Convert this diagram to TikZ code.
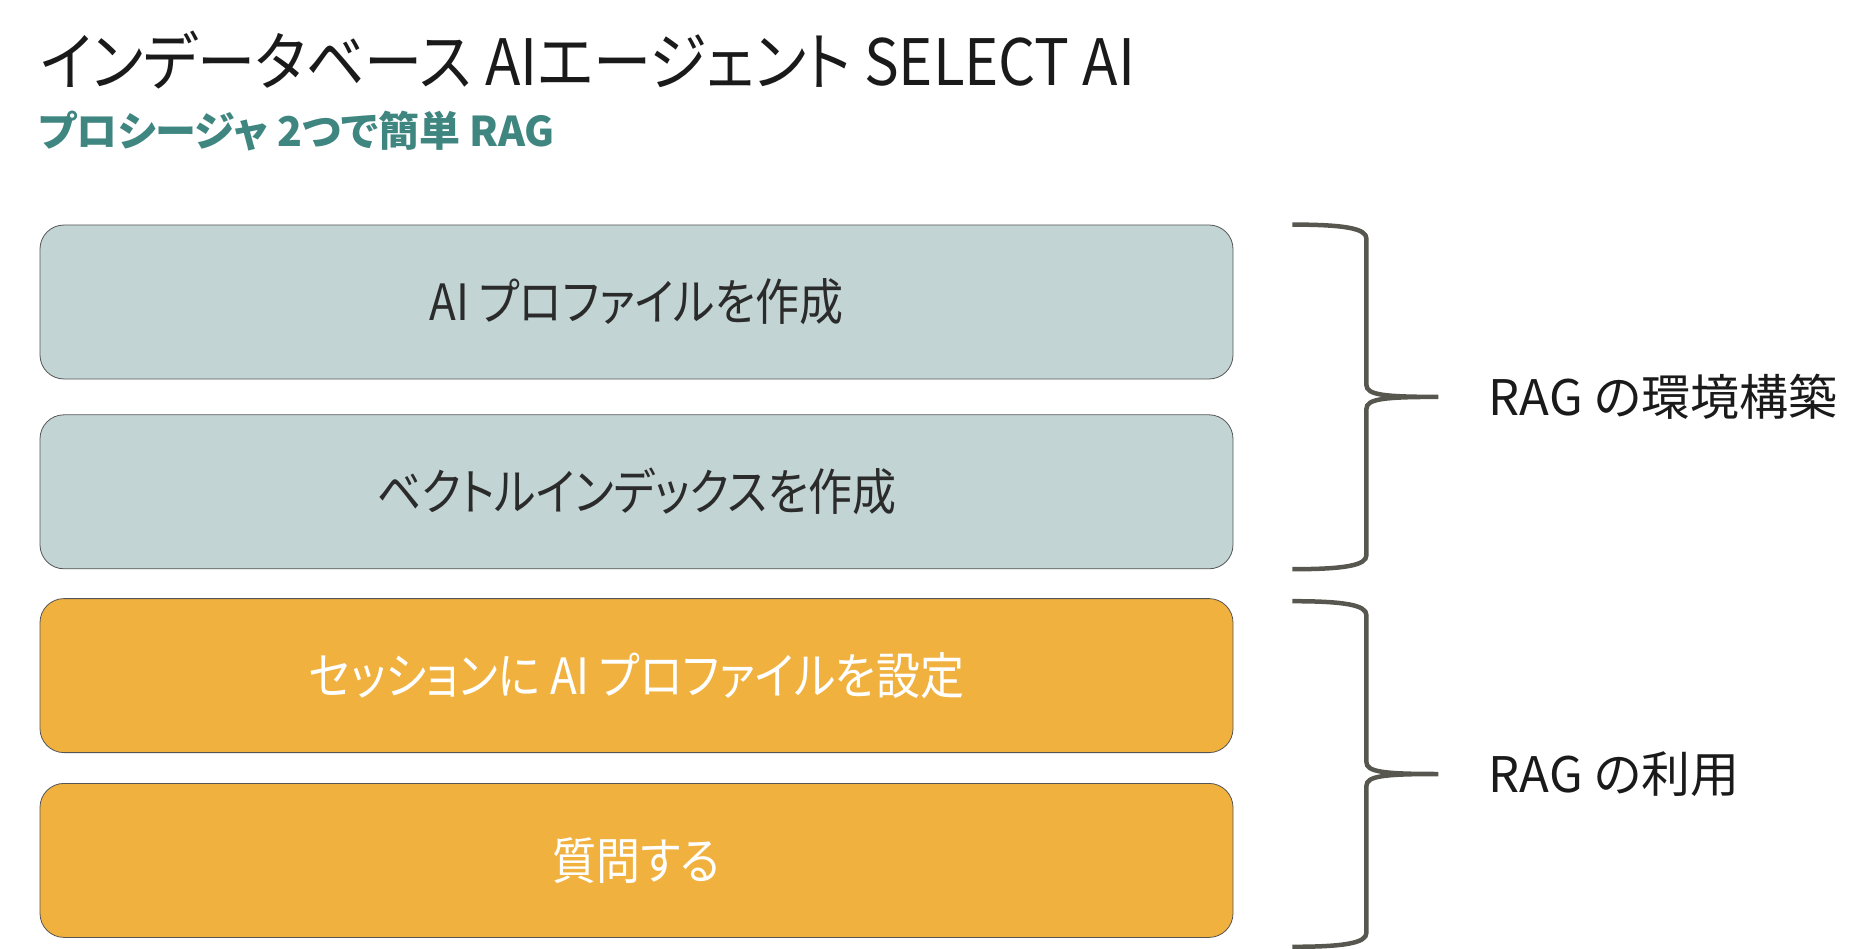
\documentclass[tikz,border=0pt]{standalone}
\usepackage{fontspec}
\setmainfont{Noto Sans CJK JP}[RawFeature=+palt]
\newfontfamily\titlefont{Noto Sans CJK JP}[RawFeature=+palt, FakeStretch=0.91]
\newfontfamily\stepfont{Noto Sans CJK JP}[RawFeature=+palt, FakeStretch=0.88]
\usetikzlibrary{positioning,calc}
\definecolor{titleblack}{HTML}{1A1A1A}
\definecolor{subteal}{HTML}{3F8680}
\definecolor{boxblue}{HTML}{C3D4D4}
\definecolor{boxorange}{HTML}{F0B13F}
\definecolor{boxedge}{HTML}{555555}
\definecolor{boxtext}{HTML}{2B2B2B}
\definecolor{bracegray}{HTML}{575750}
\tikzset{
  stepbox/.style={draw=boxedge, line width=0.8pt, rounded corners=24pt,
    minimum width=1193pt, minimum height=154pt, inner sep=0pt,
    font=\stepfont\fontsize{50}{60}\selectfont},
  envbox/.style={stepbox, fill=boxblue, text=boxtext},
  runbox/.style={stepbox, fill=boxorange, text=white},
  bracelabel/.style={text=titleblack, font=\fontsize{49}{58}\selectfont},
}
\def\sidebrace(#1)(#2)(#3)% Syntax: (top point)(bottom point)(tip name)
    { \draw[bracegray, line width=4.5pt] let \p1=(#1), \p2=(#2) in
        ({\x1+59pt},\y1) .. controls ({\x1+112pt},\y1) and ({\x1+133pt},{\y1-4pt}) .. ({\x1+133pt},{\y1-14pt})
        -- ({\x1+133pt},{(\y1+\y2)/2+12pt})
        .. controls ({\x1+133pt},{(\y1+\y2)/2+2pt}) and ({\x1+150pt},{(\y1+\y2)/2}) .. ({\x1+205pt},{(\y1+\y2)/2})
        coordinate (#3)
        .. controls ({\x1+150pt},{(\y1+\y2)/2}) and ({\x1+133pt},{(\y1+\y2)/2-2pt}) .. ({\x1+133pt},{(\y1+\y2)/2-12pt})
        -- ({\x1+133pt},{\y2+14pt})
        .. controls ({\x1+133pt},{\y2+4pt}) and ({\x1+112pt},\y2) .. ({\x1+59pt},\y2); }

\begin{document}
\begin{tikzpicture}[x=1pt,y=-1pt]
   \useasboundingbox (0,0) rectangle (1876,949);

   % heading
   \node[anchor=base west, inner sep=0pt, text=titleblack, font=\titlefont\fontsize{64}{76}\selectfont]
     (title) at (40,86) {インデータベース AIエージェント SELECT AI};
   \node[anchor=base west, inner sep=0pt, text=subteal, font=\fontsize{41}{50}\selectfont\bfseries]
     (subtitle) at (38,147) {プロシージャ 2つで簡単 RAG};

   % steps
   \node[envbox] (prof) at (636.5,302) {AI プロファイルを作成};
   \node[envbox, below=35pt of prof] (vidx) {ベクトルインデックスを作成};
   \node[runbox, below=29pt of vidx] (sess) {セッションに AI プロファイルを設定};
   \node[runbox, below=30pt of sess] (ask) {質問する};

   % groups
   \sidebrace(prof.north east)(vidx.south east)(buildtip)
   \sidebrace([yshift=-3pt]sess.north east)([yshift=-9pt]ask.south east)(usetip)
   \node[bracelabel, right=47pt of buildtip] (build) {RAG の環境構築};
   \node[bracelabel, right=47pt of usetip] (use) {RAG の利用};
\end{tikzpicture}
\end{document}
